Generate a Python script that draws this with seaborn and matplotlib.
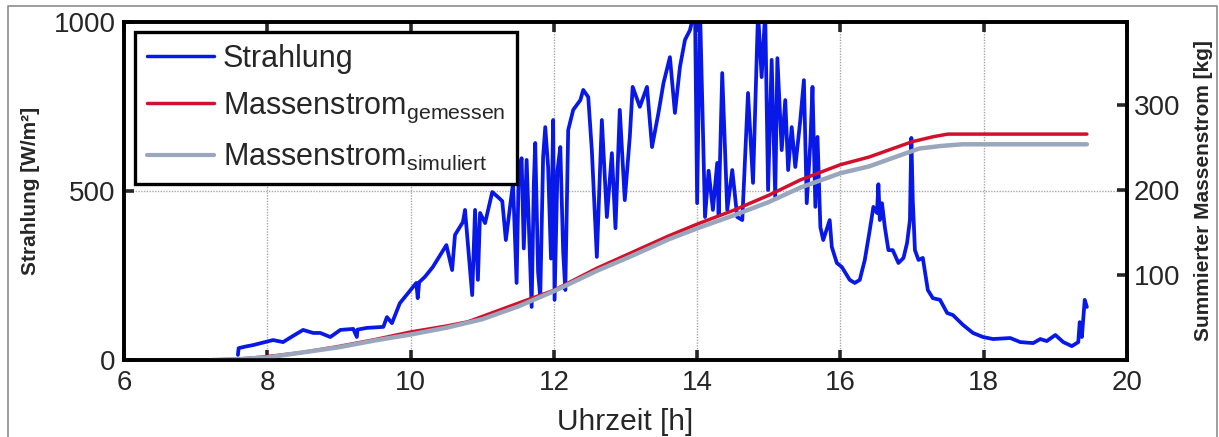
import matplotlib
matplotlib.use("Agg")
import matplotlib.pyplot as plt
import seaborn as sns
from matplotlib.lines import Line2D

# Strahlung (W/m^2) over Uhrzeit (h)
strahlung_t = [7.59, 7.60, 7.70, 7.80, 7.95, 8.08, 8.22, 8.35, 8.50, 8.64, 8.74, 8.88,
               9.02, 9.20, 9.25, 9.26, 9.39, 9.62, 9.67, 9.74, 9.85, 10.00, 10.08, 10.10,
               10.12, 10.20, 10.31, 10.50, 10.58, 10.62, 10.73, 10.76, 10.86, 10.90, 10.94,
               10.97, 11.04, 11.14, 11.22, 11.28, 11.33, 11.43, 11.48, 11.51, 11.55, 11.58,
               11.62, 11.69, 11.72, 11.74, 11.78, 11.81, 11.85, 11.88, 11.92, 11.96, 11.99,
               12.01, 12.05, 12.09, 12.13, 12.16, 12.20, 12.27, 12.37,
               12.41, 12.48, 12.53, 12.60, 12.67, 12.74, 12.81, 12.86, 12.92, 12.99, 13.06,
               13.10, 13.20, 13.30, 13.37, 13.46, 13.53, 13.62, 13.69, 13.76, 13.83, 13.90,
               13.97, 14.00, 14.04, 14.11, 14.16, 14.22, 14.28, 14.30, 14.35, 14.42, 14.49,
               14.56, 14.63, 14.71, 14.78, 14.85, 14.90, 14.95, 14.99, 15.04, 15.09, 15.12,
               15.18, 15.23, 15.27, 15.32, 15.37, 15.44, 15.49, 15.53, 15.58, 15.61, 15.65,
               15.68, 15.72, 15.76, 15.85, 15.88, 15.95, 16.02, 16.13, 16.20, 16.27, 16.34,
               16.41, 16.46, 16.51, 16.53, 16.55, 16.58, 16.62, 16.67, 16.73, 16.81, 16.88,
               16.93, 16.97, 16.99, 17.01, 17.04, 17.09, 17.15, 17.22, 17.29, 17.39, 17.49,
               17.57, 17.71, 17.85, 17.99, 18.13, 18.37, 18.51, 18.69, 18.79, 18.88, 19.00,
               19.11, 19.23, 19.32, 19.34, 19.37, 19.41, 19.44]
strahlung_w = [15, 35, 40, 44, 52, 59, 53, 70, 89, 80, 80, 68,
               89, 92, 68, 90, 95, 98, 127, 109, 168, 207, 228, 183,
               230, 246, 275, 340, 266, 370, 408, 444, 192, 444, 237,
               435, 405, 497, 482, 470, 355, 523, 228, 560, 597, 330,
               592, 157, 520, 642, 260, 186, 600, 689, 571, 300, 710,
               178, 560, 630, 320, 207, 680, 740, 769,
               799, 778, 621, 305, 710, 423, 612, 390, 740, 473, 660,
               808, 749, 808, 630, 731, 819, 896, 731, 867, 947, 976,
               1040, 464, 1040, 423, 560, 444, 583, 430, 849, 444, 562,
               423, 414, 790, 524, 1030, 837, 1030, 503, 888, 482, 893,
               621, 769, 562, 689, 571, 710, 828, 464, 642, 808, 453,
               660, 393, 355, 414, 334, 287, 275, 237, 228, 237, 296,
               385, 453, 435, 520, 414, 464, 393, 325, 325, 287, 302,
               346, 414, 657, 473, 325, 296, 302, 207, 183, 178, 139,
               133, 104, 80, 68, 62, 65, 53, 50, 62, 56, 74,
               53, 41, 53, 112, 68, 178, 157]

# summierter Massenstrom (kg), gemessen
gemessen_t = [7.20, 7.60, 8.00, 8.50, 9.00, 9.50, 10.00, 10.50, 10.80, 11.25, 11.70, 12.00,
              12.60, 13.10, 13.60, 14.00, 14.50, 15.00, 15.44, 16.00, 16.40, 16.80, 17.00,
              17.30, 17.50, 19.44]
gemessen_kg = [0, 1, 4, 9, 16, 24, 33, 40, 45, 59, 73, 82,
               108, 127, 146, 160, 176, 194, 212, 230, 239, 251, 257,
               263, 266, 266]

# summierter Massenstrom (kg), simuliert
simuliert_t = [7.23, 7.60, 8.00, 8.50, 9.00, 9.50, 10.00, 10.50, 11.00, 11.50, 12.00,
               12.60, 13.10, 13.60, 14.00, 14.50, 15.00, 15.44, 16.00, 16.40, 16.80,
               17.10, 17.40, 17.70, 19.44]
simuliert_kg = [0, 1, 3, 9, 15, 23, 30, 38, 48, 63, 81,
                105, 123, 142, 155, 170, 186, 203, 220, 228, 240,
                249, 252, 254, 254]

x_ticks = [6, 8, 10, 12, 14, 16, 18, 20]
left_ticks = [0, 500, 1000]
right_ticks = [100, 200, 300]

sns.set_style("white")
plt.rcParams["font.family"] = ["Liberation Sans", "DejaVu Sans"]
plt.rcParams["mathtext.fontset"] = "custom"
plt.rcParams["mathtext.rm"] = "Liberation Sans"
plt.rcParams["mathtext.it"] = "Liberation Sans:italic"
plt.rcParams["mathtext.bf"] = "Liberation Sans:bold"

blue = "#0818e6"
red = "#d2102c"
grey = "#9aa6bc"

fig = plt.figure(figsize=(12.19, 4.37), dpi=100)
ax = fig.add_axes([124 / 1219, 77 / 437, 1003 / 1219, 338 / 437])
ax2 = ax.twinx()

sns.lineplot(x=strahlung_t, y=strahlung_w, ax=ax, color=blue, lw=2.7,
             estimator=None, sort=False, legend=False)
sns.lineplot(x=gemessen_t, y=gemessen_kg, ax=ax2, color=red, lw=2.5,
             estimator=None, sort=False, legend=False)
sns.lineplot(x=simuliert_t, y=simuliert_kg, ax=ax2, color=grey, lw=3.2,
             estimator=None, sort=False, legend=False)

ax.set_xlim(6, 20)
ax.set_ylim(0, 1000)
ax2.set_ylim(0, 398)
ax.set_xticks(x_ticks)
ax.set_yticks(left_ticks)
ax2.set_yticks(right_ticks)

ax.grid(True, linestyle=(0, (1, 1)), color="#a8a8a8", lw=1.0)
ax2.grid(False)

for a in (ax, ax2):
    for s in a.spines.values():
        s.set_linewidth(2.6)
        s.set_color("black")
ax.tick_params(axis="x", direction="in", length=7, width=2.6, labelsize=20, pad=7,
               top=True, bottom=True)
ax.tick_params(axis="y", direction="in", length=7, width=2.6, labelsize=20, pad=6,
               left=True, right=False)
ax2.tick_params(axis="y", direction="in", length=7, width=2.6, labelsize=20, pad=5)

ax.set_xlabel("Uhrzeit [h]", fontsize=21.5, labelpad=9)
ax.set_ylabel("Strahlung [W/m²]", fontsize=15, fontweight="bold", labelpad=10)
ax2.set_ylabel("Summierter Massenstrom [kg]", fontsize=15, fontweight="bold", labelpad=10)

handles = [Line2D([], [], color=blue, lw=2.5),
           Line2D([], [], color=red, lw=2.5),
           Line2D([], [], color=grey, lw=3.0)]
labels = ["Strahlung",
          r"Massenstrom$_{\mathrm{gemessen}}$",
          r"Massenstrom$_{\mathrm{simuliert}}$"]
leg = ax2.legend(handles, labels, loc="upper left", bbox_to_anchor=(0.011, 0.97),
                 borderaxespad=0, fontsize=22, handlelength=2.2, handletextpad=0.3,
                 labelspacing=0.55, borderpad=0.38, frameon=True, fancybox=False,
                 framealpha=1, edgecolor="black")
leg.get_frame().set_linewidth(2.4)

# grey frame of the original screenshot
fig.add_artist(Line2D([8 / 1219, 8 / 1219, 1217 / 1219, 1217 / 1219],
                      [0, 1 - 6 / 437, 1 - 6 / 437, 0],
                      transform=fig.transFigure, color="#8c8c8c", lw=1.2))

fig.savefig("out.png", dpi=100)
